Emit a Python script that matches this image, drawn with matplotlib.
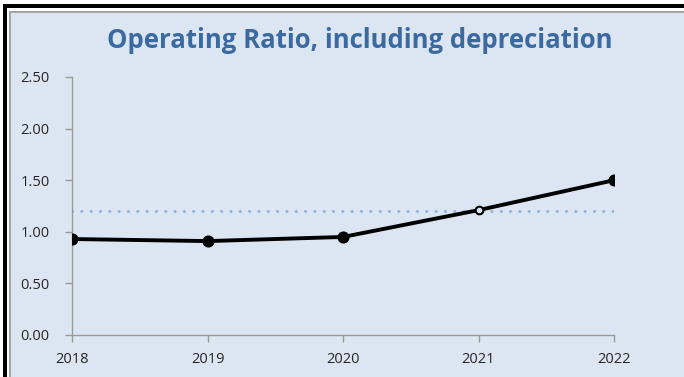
import matplotlib.pyplot as plt
from matplotlib.patches import Rectangle

years = [2018, 2019, 2020, 2021, 2022]
ratio = [0.93, 0.91, 0.95, 1.21, 1.50]
benchmark = [1.20, 1.20, 1.20, 1.20, 1.20]
y_ticks = [0.0, 0.5, 1.0, 1.5, 2.0, 2.5]

W, H = 684, 377
fig = plt.figure(figsize=(W / 100, H / 100), dpi=100)
fig.patch.set_facecolor("white")

def px_rect(x0, y0, x1, y1, color, z):
    fig.patches.append(Rectangle((x0 / W, 1 - y1 / H), (x1 - x0) / W, (y1 - y0) / H,
                                 transform=fig.transFigure, facecolor=color,
                                 edgecolor="none", zorder=z))

# frame: black outer rule, white gap, grey inner rule, light blue panel
px_rect(3, 4, W, H, "black", 0)
px_rect(7, 8, W, H, "white", 1)
px_rect(9, 11, W, H, "#a6a6a6", 2)
px_rect(11, 13, W, H, "#dce6f2", 3)

ax = fig.add_axes([72 / W, 1 - 335 / H, (614 - 72) / W, (335 - 77) / H])
ax.set_facecolor("none")
ax.set_zorder(5)

ax.plot(years, benchmark, linestyle=(0, (0.05, 3.0)), color="#8eb4e3", lw=2.2,
        dash_capstyle="round", zorder=2)
ax.plot(years, ratio, color="black", lw=2.8, zorder=3)
face = ["black", "black", "black", "#dce6f2", "black"]
sizes = [7.2, 7.2, 7.2, 5.5, 7.2]
for x, y, fc, s in zip(years, ratio, face, sizes):
    ax.plot([x], [y], marker="o", ms=s, mfc=fc, mec="black", mew=1.5, zorder=4)

ax.set_xlim(2018, 2022)
ax.set_ylim(0, 2.5)
ax.set_xticks(years)
ax.set_xticklabels([str(y) for y in years])
ax.set_yticks(y_ticks)
ax.set_yticklabels([f"{v:.2f}" for v in y_ticks])

for s in ["top", "right"]:
    ax.spines[s].set_visible(False)
for s in ["left", "bottom"]:
    ax.spines[s].set_color("#9a9a9a")
    ax.spines[s].set_linewidth(1.0)
ax.tick_params(axis="both", colors="#9a9a9a", length=5, width=1.0,
               labelcolor="#262626", labelsize=10.5)
ax.tick_params(axis="y", pad=11)
ax.tick_params(axis="x", pad=7)
for lab in ax.get_xticklabels() + ax.get_yticklabels():
    lab.set_family("Open Sans")

fig.text(360 / W, 1 - 40 / H, "Operating Ratio, including depreciation",
         ha="center", va="center", fontsize=18.5, fontweight="bold",
         color="#3b6aa0", family="Open Sans")

fig.savefig("out.png", dpi=100)
